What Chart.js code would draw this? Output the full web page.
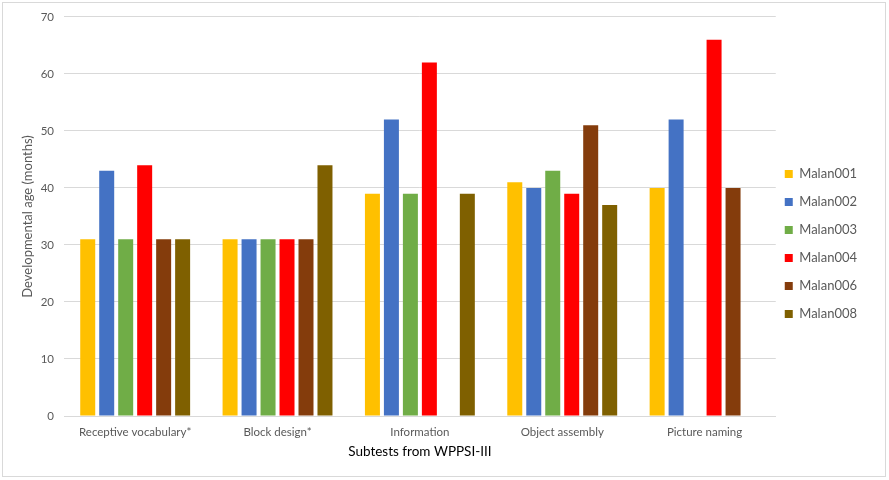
<!DOCTYPE html>
<html>
<head>
<meta charset="utf-8">
<script src="https://cdn.jsdelivr.net/npm/chart.js@4/dist/chart.umd.min.js"></script>
<style>
  html, body { margin: 0; padding: 0; background: #fff; }
  #frame { position: absolute; left: 2px; top: 2px; width: 882px; height: 473px; border: 1px solid #d9d9d9; }
  #wrap { position: absolute; left: 0; top: 0; width: 889px; height: 480px; }
</style>
</head>
<body>
<div id="frame"></div>
<div id="wrap"><canvas id="c" width="889" height="480"></canvas></div>
<script>
const categories = ["Receptive vocabulary*", "Block design*", "Information", "Object assembly", "Picture naming"];
const seriesNames = ["Malan001", "Malan002", "Malan003", "Malan004", "Malan006", "Malan008"];
const malan001 = [31, 31, 39, 41, 40];
const malan002 = [43, 31, 52, 40, 52];
const malan003 = [31, 31, 39, 43, null];
const malan004 = [44, 31, 62, 39, 66];
const malan006 = [31, 31, null, 51, 40];
const malan008 = [31, 44, 39, 37, null];
const yTicks = [0, 10, 20, 30, 40, 50, 60, 70];
const colors = ["#FFC000", "#4472C4", "#70AD47", "#FF0000", "#843C0C", "#7F6000"];

const seriesValues = [malan001, malan002, malan003, malan004, malan006, malan008];
const FONT = "Lato, 'Open Sans', sans-serif";

const legendShift = {
  id: "legendShift",
  beforeDraw(chart) {
    const lg = chart.legend;
    if (!lg || lg._shifted) return;
    lg.left -= 6; lg.right -= 6;
    lg.top += 8; lg.bottom += 8;
    lg._shifted = true;
  }
};

new Chart(document.getElementById("c"), {
  type: "bar",
  data: {
    labels: categories,
    datasets: seriesNames.map((n, i) => ({
      label: n,
      data: seriesValues[i],
      backgroundColor: colors[i],
      borderWidth: 0,
      categoryPercentage: 0.8,
      barPercentage: 0.79
    }))
  },
  options: {
    responsive: false,
    animation: false,
    layout: { padding: { left: 20, top: 12, right: 16, bottom: 20 } },
    plugins: {
      tooltip: { enabled: false },
      legend: {
        position: "right",
        labels: {
          boxWidth: 8, boxHeight: 8, padding: 15,
          color: "#595959",
          font: { family: FONT, size: 13 }
        }
      }
    },
    scales: {
      x: {
        afterFit: (s) => { s.height = 44; },
        grid: { display: false, drawTicks: false },
        border: { color: "#d9d9d9", width: 1 },
        ticks: { color: "#595959", font: { family: FONT, size: 11.5 }, padding: 9 },
        title: { display: true, text: "Subtests from WPPSI-III", color: "#000", font: { family: FONT, size: 13.5 }, padding: { top: 0, bottom: 0 } }
      },
      y: {
        min: 0, max: 70,
        afterBuildTicks: (s) => { s.ticks = yTicks.map(v => ({ value: v })); },
        afterFit: (s) => { s.width = 44; },
        grid: { color: "#d9d9d9", drawTicks: false },
        border: { display: false },
        ticks: { color: "#595959", font: { family: FONT, size: 11.5 }, padding: 10 },
        title: { display: true, text: "Developmental age (months)", color: "#595959", font: { family: FONT, size: 13 }, padding: 0 }
      }
    }
  },
  plugins: [legendShift]
});
</script>
</body>
</html>
